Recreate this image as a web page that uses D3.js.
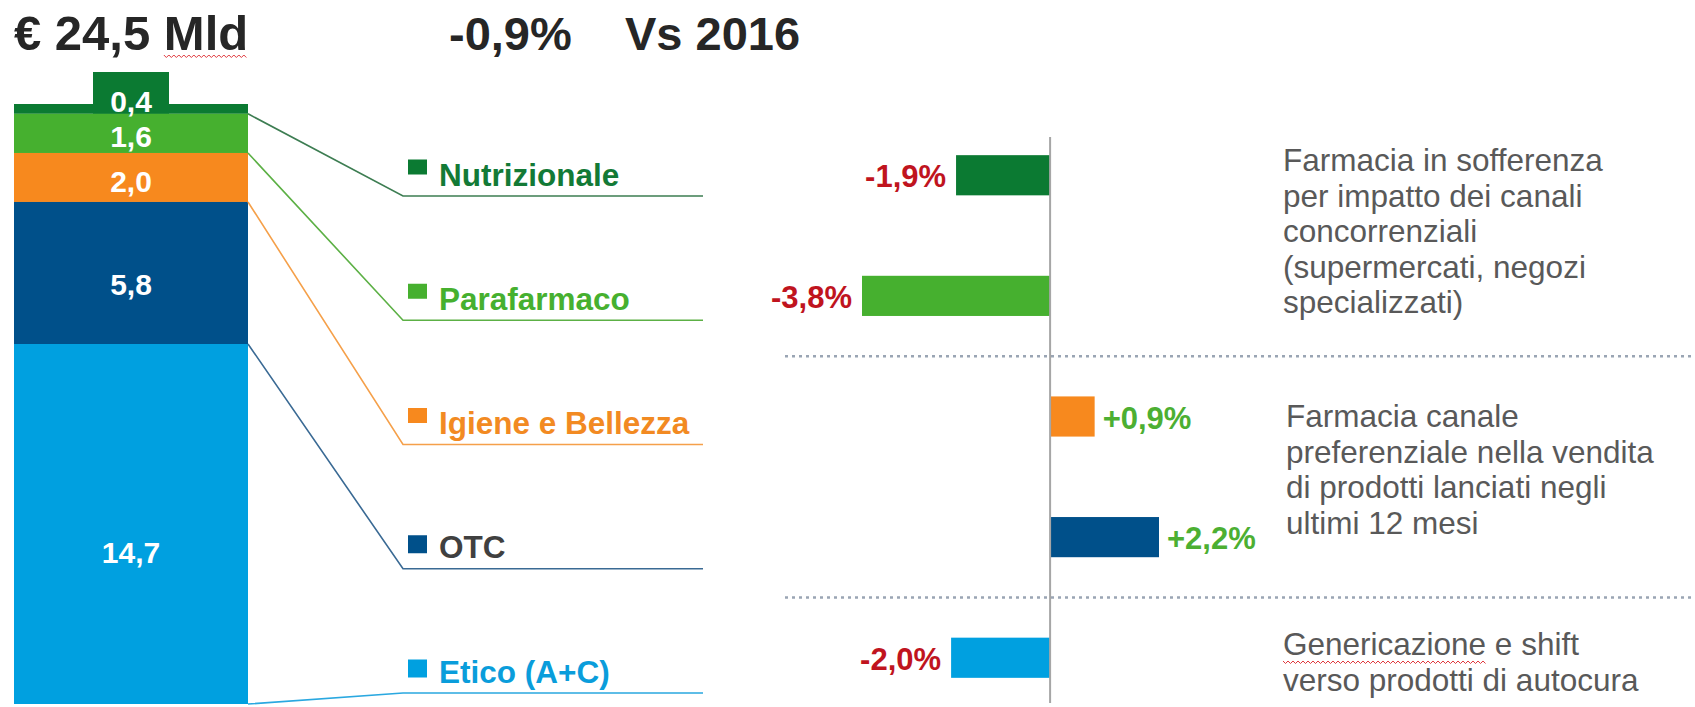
<!DOCTYPE html>
<html>
<head>
<meta charset="utf-8">
<script src="https://cdn.jsdelivr.net/npm/d3@7"></script>
<style>
  body { margin: 0; background: #fff; }
  svg { display: block; font-family: "Liberation Sans", Arial, sans-serif; }
</style>
</head>
<body>
<div id="chart"></div>
<script>
// Valori (Mld €) e variazioni % vs 2016
var categories = ["Nutrizionale", "Parafarmaco", "Igiene e Bellezza", "OTC", "Etico (A+C)"];
var values = [0.4, 1.6, 2.0, 5.8, 14.7];
var valueLabels = ["0,4", "1,6", "2,0", "5,8", "14,7"];
var variations = [-1.9, -3.8, 0.9, 2.2, -2.0];
var variationLabels = ["-1,9%", "-3,8%", "+0,9%", "+2,2%", "-2,0%"];
var totalLabel = "€ 24,5 Mld";
var deltaLabel = "-0,9%";
var vsLabel = "Vs 2016";
var comments = [
    ["Farmacia in sofferenza", "per impatto dei canali", "concorrenziali", "(supermercati, negozi", "specializzati)"],
    ["Farmacia canale", "preferenziale nella vendita", "di prodotti lanciati negli", "ultimi 12 mesi"],
    ["Genericazione e shift", "verso prodotti di autocura"]
];

var colors = ["#0b7a32", "#46b02f", "#f7891e", "#00508a", "#00a0e0"];
var textColors = ["#137a36", "#46b02f", "#f28a22", "#404040", "#0a9ddb"];
var lineColors = ["#3d7d52", "#5cb045", "#f5a04a", "#3a6a94", "#2aa8e0"];

var width = 1695;
var height = 707;

var svg = d3.select("#chart")
    .append("svg")
    .attr("width", width)
    .attr("height", height);

// ---- Titoli
var title = svg.append("text")
    .attr("x", 14)
    .attr("y", 50)
    .style("font-size", "49px")
    .style("font-weight", "bold")
    .style("fill", "#262626")
    .text(totalLabel);

svg.append("text")
    .attr("x", 449)
    .attr("y", 50)
    .style("font-size", "47px")
    .style("font-weight", "bold")
    .style("fill", "#262626")
    .text(deltaLabel);

svg.append("text")
    .attr("x", 625)
    .attr("y", 50)
    .style("font-size", "47px")
    .style("font-weight", "bold")
    .style("fill", "#262626")
    .text(vsLabel);

// sottolineatura ondulata (correttore ortografico)
function squiggle(x0, x1, y) {
    var pts = [];
    var i = 0;
    for (var x = x0; x <= x1; x += 2.5) {
        pts.push([x, y + (i % 2 ? 2.5 : 0)]);
        i++;
    }
    svg.append("path")
        .attr("d", d3.line()(pts))
        .attr("fill", "none")
        .attr("stroke", "#e0393e")
        .attr("stroke-width", 1);
}
var tnode = title.node();
var mStart = tnode.getStartPositionOfChar(7).x;
squiggle(mStart, mStart + tnode.getSubStringLength(7, 3), 55);

// ---- Barra impilata
var total = d3.sum(values);
var barX0 = 14, barX1 = 248;
var yStack = d3.scaleLinear()
    .domain([0, total])
    .range([104, 704]);

var stackData = [];
var acc = 0;
values.forEach(function(v, i) {
    stackData.push({ cat: categories[i], v: v, start: acc, end: acc + v, i: i });
    acc += v;
});

// etichetta rialzata per il segmento piccolo
var first = stackData[0];
var barMid = (barX0 + barX1) / 2;
svg.append("rect")
    .attr("x", barMid - 38)
    .attr("y", yStack(first.start) - 32)
    .attr("width", 76)
    .attr("height", yStack(first.end) - yStack(first.start) + 32)
    .attr("fill", colors[0]);

svg.selectAll(".seg")
    .data(stackData)
    .enter()
    .append("rect")
    .attr("class", "seg")
    .attr("x", barX0)
    .attr("y", function(d) { return yStack(d.start); })
    .attr("width", barX1 - barX0)
    .attr("height", function(d) { return yStack(d.end) - yStack(d.start); })
    .attr("fill", function(d) { return colors[d.i]; });

svg.selectAll(".segLabel")
    .data(stackData)
    .enter()
    .append("text")
    .attr("class", "segLabel")
    .attr("x", barMid)
    .attr("y", function(d) {
        if (d.i === 0) return yStack(d.end) - 2;
        // leggermente sotto il centro del segmento
        return yStack(d.start) + (yStack(d.end) - yStack(d.start)) * 0.58 + 10.5;
    })
    .attr("text-anchor", "middle")
    .style("font-size", "30px")
    .style("font-weight", "bold")
    .style("fill", "#fff")
    .text(function(d) { return valueLabels[d.i]; });

// ---- Legenda con linee di collegamento
var legendX0 = 403, legendX1 = 703;
var yLegend = d3.scalePoint()
    .domain(categories)
    .range([196, 693]);

svg.selectAll(".connector")
    .data(stackData)
    .enter()
    .append("path")
    .attr("class", "connector")
    .attr("d", function(d) {
        return d3.line()([
            [barX1, yStack(d.end)],
            [legendX0, yLegend(d.cat)],
            [legendX1, yLegend(d.cat)]
        ]);
    })
    .attr("fill", "none")
    .attr("stroke", function(d) { return lineColors[d.i]; })
    .attr("stroke-width", 1.6);

var legend = svg.selectAll(".legend")
    .data(stackData)
    .enter()
    .append("g")
    .attr("class", "legend")
    .attr("transform", function(d) {
        return "translate(" + legendX0 + "," + (yLegend(d.cat) - 10.5) + ")";
    });

legend.append("rect")
    .attr("x", 5)
    .attr("y", function(d) { return d.i < 3 ? -26 : -23; })
    .attr("width", 19)
    .attr("height", function(d) { return d.i < 3 ? 15 : 18; })
    .attr("fill", function(d) { return colors[d.i]; });

legend.append("text")
    .attr("x", 36)
    .attr("y", 0)
    .style("font-size", "31.5px")
    .style("font-weight", "bold")
    .style("fill", function(d) { return textColors[d.i]; })
    .text(function(d) { return d.cat; });

// ---- Barre di variazione
var xDiv = d3.scaleLinear()
    .domain([-3.8, 2.2])
    .range([862, 1159]);

var yDiv = d3.scaleBand()
    .domain(categories)
    .range([115, 718])
    .paddingInner(0.667)
    .paddingOuter(0.333);

// separatori tratteggiati
var seps = [
    (yDiv(categories[1]) + yDiv(categories[2]) + yDiv.bandwidth()) / 2,
    (yDiv(categories[3]) + yDiv(categories[4]) + yDiv.bandwidth()) / 2
];
svg.selectAll(".sep")
    .data(seps)
    .enter()
    .append("line")
    .attr("class", "sep")
    .attr("x1", 785)
    .attr("x2", width)
    .attr("y1", function(d) { return d; })
    .attr("y2", function(d) { return d; })
    .attr("stroke", "#9aa5b4")
    .attr("stroke-width", 2.5)
    .attr("stroke-dasharray", "3,4");

var divData = categories.map(function(c, i) {
    return { cat: c, v: variations[i], i: i };
});

svg.selectAll(".divBar")
    .data(divData)
    .enter()
    .append("rect")
    .attr("class", "divBar")
    .attr("x", function(d) { return Math.min(xDiv(0), xDiv(d.v)); })
    .attr("y", function(d) { return yDiv(d.cat); })
    .attr("width", function(d) { return Math.abs(xDiv(d.v) - xDiv(0)); })
    .attr("height", yDiv.bandwidth())
    .attr("fill", function(d) { return colors[d.i]; });

svg.append("line")
    .attr("x1", xDiv(0))
    .attr("x2", xDiv(0))
    .attr("y1", 137)
    .attr("y2", 703)
    .attr("stroke", "#a6a6a6")
    .attr("stroke-width", 2);

svg.selectAll(".divLabel")
    .data(divData)
    .enter()
    .append("text")
    .attr("class", "divLabel")
    .attr("x", function(d) { return d.v < 0 ? xDiv(d.v) - 10 : xDiv(d.v) + 8; })
    .attr("y", function(d) { return yDiv(d.cat) + yDiv.bandwidth() / 2 + 12; })
    .attr("text-anchor", function(d) { return d.v < 0 ? "end" : "start"; })
    .style("font-size", "31px")
    .style("font-weight", "bold")
    .style("fill", function(d) { return d.v < 0 ? "#c0141e" : "#4caf32"; })
    .text(function(d) { return variationLabels[d.i]; });

// ---- Commenti
var commentPos = [[1283, 171], [1286, 427], [1283, 655]];
var lineH = 35.5;
comments.forEach(function(lines, b) {
    var t = svg.append("text")
        .attr("x", commentPos[b][0])
        .attr("y", commentPos[b][1])
        .style("font-size", "31.5px")
        .style("fill", "#595959");
    lines.forEach(function(l, k) {
        t.append("tspan")
            .attr("x", commentPos[b][0])
            .attr("y", commentPos[b][1] + k * lineH)
            .text(l);
    });
});

// squiggle sotto "Genericazione"
var gTspan = svg.selectAll("tspan").filter(function() { return this.textContent === comments[2][0]; }).node();
var gx = gTspan.getStartPositionOfChar(0).x;
squiggle(gx, gx + gTspan.getSubStringLength(0, 13), commentPos[2][1] + 6);
</script>
</body>
</html>
